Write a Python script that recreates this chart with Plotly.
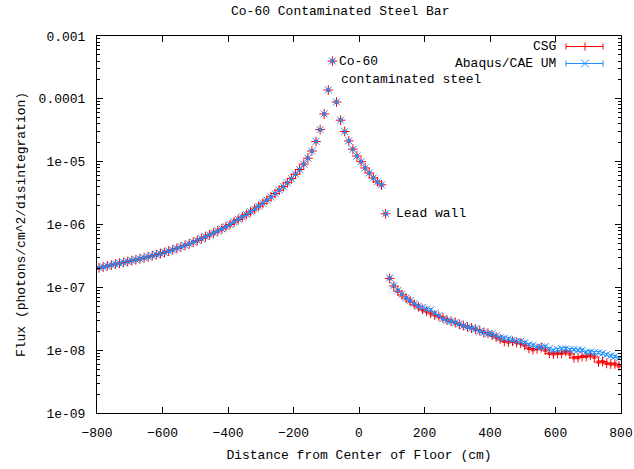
import math
import plotly.graph_objects as go

# Detector bin centres along the floor (cm)
position_cm = [
    -793.75, -781.25, -768.75, -756.25, -743.75, -731.25, -718.75, -706.25,
    -693.75, -681.25, -668.75, -656.25, -643.75, -631.25, -618.75, -606.25,
    -593.75, -581.25, -568.75, -556.25, -543.75, -531.25, -518.75, -506.25,
    -493.75, -481.25, -468.75, -456.25, -443.75, -431.25, -418.75, -406.25,
    -393.75, -381.25, -368.75, -356.25, -343.75, -331.25, -318.75, -306.25,
    -293.75, -281.25, -268.75, -256.25, -243.75, -231.25, -218.75, -206.25,
    -193.75, -181.25, -168.75, -156.25, -143.75, -131.25, -118.75, -106.25,
    -93.75, -81.25, -68.75, -56.25, -43.75, -31.25, -18.75, -6.25,
    6.25, 18.75, 31.25, 43.75, 56.25, 68.75, 81.25, 93.75,
    106.25, 118.75, 131.25, 143.75, 156.25, 168.75, 181.25, 193.75,
    206.25, 218.75, 231.25, 243.75, 256.25, 268.75, 281.25, 293.75,
    306.25, 318.75, 331.25, 343.75, 356.25, 368.75, 381.25, 393.75,
    406.25, 418.75, 431.25, 443.75, 456.25, 468.75, 481.25, 493.75,
    506.25, 518.75, 531.25, 543.75, 556.25, 568.75, 581.25, 593.75,
    606.25, 618.75, 631.25, 643.75, 656.25, 668.75, 681.25, 693.75,
    706.25, 718.75, 731.25, 743.75, 756.25, 768.75, 781.25, 793.75,
]

# CSG flux (photons/cm^2/disintegration)
flux_csg = [
    2.04e-7, 2.11e-7, 2.19e-7, 2.26e-7, 2.34e-7, 2.42e-7, 2.49e-7, 2.57e-7,
    2.66e-7, 2.75e-7, 2.85e-7, 2.96e-7, 3.08e-7, 3.19e-7, 3.31e-7, 3.44e-7,
    3.59e-7, 3.77e-7, 3.96e-7, 4.17e-7, 4.40e-7, 4.65e-7, 4.92e-7, 5.22e-7,
    5.57e-7, 5.96e-7, 6.38e-7, 6.84e-7, 7.35e-7, 7.91e-7, 8.53e-7, 9.23e-7,
    1.00e-6, 1.10e-6, 1.20e-6, 1.32e-6, 1.45e-6, 1.59e-6, 1.76e-6, 1.95e-6,
    2.17e-6, 2.44e-6, 2.75e-6, 3.11e-6, 3.52e-6, 4.01e-6, 4.62e-6, 5.37e-6,
    6.31e-6, 7.50e-6, 9.12e-6, 1.135e-5, 1.48e-5, 2.09e-5, 3.24e-5, 5.75e-5,
    1.38e-4, 3.98e-4, 8.90e-5, 4.57e-5, 3.02e-5, 2.14e-5, 1.58e-5, 1.23e-5,
    1.00e-5, 7.94e-6, 6.61e-6, 5.50e-6, 4.79e-6, 4.27e-6, 1.48e-6, 1.38e-7,
    1.05e-7, 8.71e-8, 7.59e-8, 6.76e-8, 6.03e-8, 5.37e-8, 4.90e-8, 4.47e-8,
    4.17e-8, 3.89e-8, 3.63e-8, 3.47e-8, 3.24e-8, 3.02e-8, 2.88e-8, 2.75e-8,
    2.57e-8, 2.45e-8, 2.34e-8, 2.24e-8, 2.14e-8, 2.04e-8, 1.91e-8, 1.86e-8,
    1.74e-8, 1.62e-8, 1.51e-8, 1.38e-8, 1.35e-8, 1.38e-8, 1.32e-8, 1.29e-8,
    1.20e-8, 1.07e-8, 1.02e-8, 1.05e-8, 1.10e-8, 1.00e-8, 8.91e-9, 8.71e-9,
    8.91e-9, 8.91e-9, 9.55e-9, 8.71e-9, 7.59e-9, 7.59e-9, 7.94e-9, 7.94e-9,
    8.32e-9, 7.76e-9, 6.46e-9, 6.61e-9, 6.17e-9, 6.03e-9, 6.03e-9, 5.62e-9,
]

# Abaqus/CAE user-material flux (photons/cm^2/disintegration)
flux_abaqus = [
    2.05e-7, 2.11e-7, 2.18e-7, 2.26e-7, 2.34e-7, 2.41e-7, 2.49e-7, 2.58e-7,
    2.66e-7, 2.76e-7, 2.85e-7, 2.96e-7, 3.07e-7, 3.19e-7, 3.32e-7, 3.44e-7,
    3.60e-7, 3.77e-7, 3.95e-7, 4.17e-7, 4.41e-7, 4.65e-7, 4.93e-7, 5.22e-7,
    5.56e-7, 5.96e-7, 6.39e-7, 6.84e-7, 7.34e-7, 7.92e-7, 8.53e-7, 9.22e-7,
    1.00e-6, 1.10e-6, 1.21e-6, 1.32e-6, 1.45e-6, 1.60e-6, 1.76e-6, 1.95e-6,
    2.18e-6, 2.44e-6, 2.74e-6, 3.11e-6, 3.53e-6, 4.01e-6, 4.63e-6, 5.36e-6,
    6.32e-6, 7.49e-6, 9.13e-6, 1.14e-5, 1.48e-5, 2.10e-5, 3.23e-5, 5.77e-5,
    1.39e-4, 4.00e-4, 8.92e-5, 4.58e-5, 3.01e-5, 2.15e-5, 1.57e-5, 1.23e-5,
    1.00e-5, 7.96e-6, 6.60e-6, 5.51e-6, 4.78e-6, 4.28e-6, 1.49e-6, 1.41e-7,
    1.07e-7, 8.91e-8, 7.76e-8, 6.76e-8, 6.17e-8, 5.50e-8, 5.01e-8, 4.79e-8,
    4.47e-8, 4.37e-8, 3.89e-8, 3.55e-8, 3.16e-8, 2.95e-8, 2.88e-8, 2.75e-8,
    2.63e-8, 2.45e-8, 2.34e-8, 2.24e-8, 2.19e-8, 2.00e-8, 1.91e-8, 1.82e-8,
    1.82e-8, 1.70e-8, 1.58e-8, 1.55e-8, 1.51e-8, 1.45e-8, 1.38e-8, 1.38e-8,
    1.32e-8, 1.23e-8, 1.20e-8, 1.12e-8, 1.12e-8, 1.15e-8, 1.05e-8, 1.00e-8,
    1.02e-8, 1.05e-8, 1.05e-8, 1.02e-8, 1.02e-8, 1.00e-8, 1.00e-8, 9.33e-9,
    9.33e-9, 9.12e-9, 9.12e-9, 8.91e-9, 8.51e-9, 8.13e-9, 7.94e-9, 7.41e-9,
]

y_tick_values = [1e-9, 1e-8, 1e-7, 1e-6, 1e-5, 1e-4, 1e-3]
y_tick_labels = ["1e-09", "1e-08", "1e-07", "1e-06", "1e-05", "0.0001", "0.001"]
x_tick_values = [-800, -600, -400, -200, 0, 200, 400, 600, 800]

# Text labels placed beside the source point and the lead wall point
point_labels = [
    ("Co-60", -66, 3.98e-4),
    ("contaminated steel", -60, 2.0e-4),
    ("Lead wall", 106, 1.48e-6),
]

RED = "#ff0000"
BLUE = "#1e90ff"
FONT = "Liberation Mono, DejaVu Sans Mono, monospace"
FS = 13

W, H = 634, 469
L, R, T, B = 97, 13, 36, 56
PW, PH = W - L - R, H - T - B


def px(xp):
    return (xp - L) / PW


def py(yp):
    return (H - B - yp) / PH


fig = go.Figure()

fig.add_trace(go.Scatter(
    x=position_cm, y=flux_csg, mode="markers", name="CSG",
    marker=dict(symbol="cross-thin", size=7, color=RED, line=dict(color=RED, width=1)),
    error_y=dict(type="percent", value=4, color=RED, thickness=1, width=2),
    showlegend=False,
))
fig.add_trace(go.Scatter(
    x=position_cm, y=flux_abaqus, mode="markers", name="Abaqus/CAE UM",
    marker=dict(symbol="x-thin", size=7, color=BLUE, line=dict(color=BLUE, width=1)),
    error_y=dict(type="percent", value=4, color=BLUE, thickness=1, width=2),
    showlegend=False,
))

text_font = dict(family=FONT, size=FS, color="#000")

# Key drawn in the gnuplot style: label, then a short error-bar sample
shapes = []
annotations = []
key_rows = [("CSG", RED, 46.5, "plus"), ("Abaqus/CAE UM", BLUE, 63.5, "cross")]
for label, colour, yrow, glyph in key_rows:
    annotations.append(dict(
        x=px(558), y=py(yrow), xref="paper", yref="paper", text=label,
        showarrow=False, xanchor="right", yanchor="middle", font=text_font,
    ))
    line = dict(color=colour, width=1)
    shapes.append(dict(type="line", xref="paper", yref="paper",
                       x0=px(566), x1=px(603), y0=py(yrow), y1=py(yrow), line=line))
    for xe in (566, 603):
        shapes.append(dict(type="line", xref="paper", yref="paper",
                           x0=px(xe), x1=px(xe), y0=py(yrow - 3), y1=py(yrow + 3), line=line))
    if glyph == "plus":
        shapes.append(dict(type="line", xref="paper", yref="paper",
                           x0=px(585), x1=px(585), y0=py(yrow - 4), y1=py(yrow + 4), line=line))
    else:
        shapes.append(dict(type="line", xref="paper", yref="paper",
                           x0=px(581), x1=px(589), y0=py(yrow - 4), y1=py(yrow + 4), line=line))
        shapes.append(dict(type="line", xref="paper", yref="paper",
                           x0=px(581), x1=px(589), y0=py(yrow + 4), y1=py(yrow - 4), line=line))

for text, xv, yv in point_labels:
    # annotation positions on a log axis are given in log10 units
    annotations.append(dict(
        x=xv, y=math.log10(yv), xref="x", yref="y", text=text,
        showarrow=False, xanchor="left", yanchor="middle", font=text_font,
    ))
annotations.append(dict(
    x=px(340), y=py(12), xref="paper", yref="paper",
    text="Co-60 Contaminated Steel Bar", showarrow=False,
    xanchor="center", yanchor="middle", font=text_font,
))

fig.update_layout(
    width=W, height=H,
    margin=dict(l=L, r=R, t=T, b=B, autoexpand=False),
    paper_bgcolor="white", plot_bgcolor="white",
    font=text_font,
    shapes=shapes, annotations=annotations,
)

fig.update_xaxes(
    range=[-800, 800], tickvals=x_tick_values, automargin=False,
    showline=True, linecolor="black", linewidth=1, mirror="ticks",
    ticks="inside", ticklen=6, tickcolor="black", showgrid=False, zeroline=False,
    ticklabelstandoff=7, tickfont=text_font,
    title=dict(text="Distance from Center of Floor (cm)", standoff=10, font=text_font),
)
fig.update_yaxes(
    type="log", range=[-9, -3], tickvals=y_tick_values, ticktext=y_tick_labels,
    automargin=False,
    showline=True, linecolor="black", linewidth=1, mirror="ticks",
    ticks="inside", ticklen=6, tickcolor="black", showgrid=False, zeroline=False,
    minor=dict(ticks="inside", ticklen=3, tickcolor="black", showgrid=False,
               tickvals=[m * d for d in [1e-9, 1e-8, 1e-7, 1e-6, 1e-5, 1e-4]
                         for m in (2, 3, 4, 5, 6, 7, 8, 9)]),
    ticklabelstandoff=8, tickfont=text_font,
    title=dict(text="Flux (photons/cm^2/disintegration)", standoff=10, font=text_font),
)

fig.write_html("out.html")
